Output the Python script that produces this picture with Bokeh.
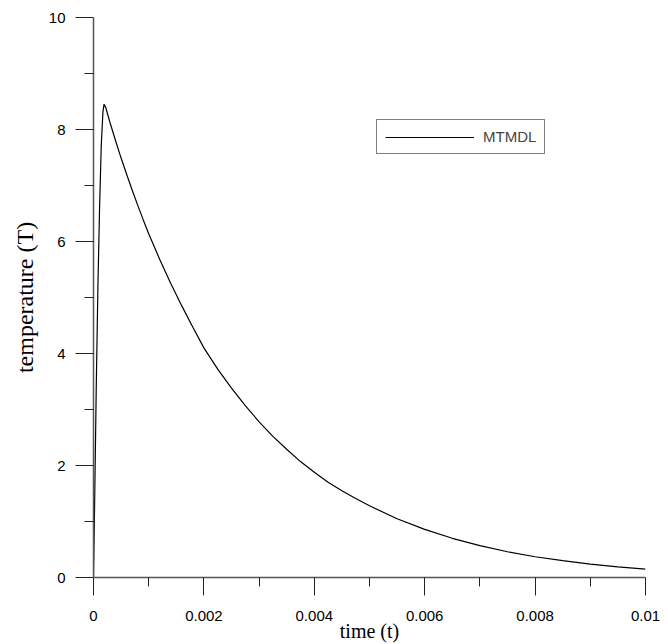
from bokeh.plotting import figure
from bokeh.models import FixedTicker, CustomJSTickFormatter, Range1d
from bokeh.embed import file_html
from bokeh.resources import INLINE

# Data
time = [0.0, 0.00002, 0.00005, 0.00008, 0.00011, 0.00014, 0.00017, 0.00019,
        0.00022, 0.0003, 0.0004, 0.0005, 0.0006, 0.0007, 0.0008, 0.0009,
        0.001, 0.0012, 0.0014, 0.0016, 0.0018, 0.002, 0.00225, 0.0025,
        0.00275, 0.003, 0.00325, 0.0035, 0.00375, 0.004, 0.00425, 0.0045,
        0.00475, 0.005, 0.0055, 0.006, 0.0065, 0.007, 0.0075, 0.008,
        0.0085, 0.009, 0.0095, 0.01]
temperature = [0.0, 1.3, 3.4, 5.2, 6.6, 7.7, 8.3, 8.45,
               8.4, 8.12, 7.8, 7.49, 7.2, 6.92, 6.65, 6.39,
               6.14, 5.68, 5.25, 4.85, 4.47, 4.1, 3.72, 3.38,
               3.07, 2.78, 2.52, 2.29, 2.07, 1.88, 1.7, 1.55,
               1.41, 1.28, 1.05, 0.86, 0.7, 0.57, 0.46, 0.37,
               0.3, 0.24, 0.19, 0.15]
series_name = "MTMDL"

x_major = [0, 0.002, 0.004, 0.006, 0.008, 0.01]
x_minor = [0.001, 0.003, 0.005, 0.007, 0.009]
y_major = [0, 2, 4, 6, 8, 10]
y_minor = [1, 3, 5, 7, 9]
x_title = "time (t)"
y_title = "temperature (T)"

p = figure(width=668, height=644, output_backend="svg", toolbar_location=None,
           x_range=Range1d(0, 0.01), y_range=Range1d(0, 10), title=None,
           min_border_left=93, min_border_right=23, min_border_top=17,
           min_border_bottom=67)
p.outline_line_color = None
p.grid.visible = False
p.background_fill_color = "white"
p.border_fill_color = "white"

p.line(time, temperature, line_color="black", line_width=1.2, legend_label=series_name)

tick_font = "Liberation Sans"
label_font = "Liberation Serif"

xa = p.xaxis[0]
xa.ticker = FixedTicker(ticks=x_major, minor_ticks=x_minor)
xa.formatter = CustomJSTickFormatter(code="return String(Number(tick.toFixed(6)));")
xa.axis_label = x_title

ya = p.yaxis[0]
ya.ticker = FixedTicker(ticks=y_major, minor_ticks=y_minor)
ya.axis_label = y_title

for ax in (xa, ya):
    ax.axis_line_color = "#555555"
    ax.axis_line_width = 1.5
    ax.major_tick_line_color = "#222222"
    ax.minor_tick_line_color = "#222222"
    ax.major_tick_out = 18
    ax.major_tick_in = 0
    ax.minor_tick_out = 9
    ax.minor_tick_in = 0
    ax.major_label_text_font = tick_font
    ax.major_label_text_font_size = "15px"
    ax.major_label_text_color = "black"
    ax.axis_label_text_font = label_font
    ax.axis_label_text_font_style = "normal"
    ax.axis_label_text_color = "black"

xa.major_label_standoff = 15
xa.axis_label_text_font_size = "20px"
xa.axis_label_standoff = -4
ya.major_label_standoff = 10
ya.axis_label_text_font_size = "24px"
ya.axis_label_standoff = 8

lg = p.legend[0]
lg.location = (283, 423)
lg.border_line_color = "black"
lg.border_line_width = 1
lg.background_fill_color = "white"
lg.background_fill_alpha = 1
lg.padding = 8
lg.margin = 0
lg.spacing = 0
lg.glyph_width = 89
lg.glyph_height = 14
lg.label_height = 14
lg.label_standoff = 9
lg.label_text_font = tick_font
lg.label_text_font_size = "15px"
lg.label_text_line_height = 1.0
lg.label_text_baseline = "middle"

open("out.html", "w").write(file_html(p, INLINE))
